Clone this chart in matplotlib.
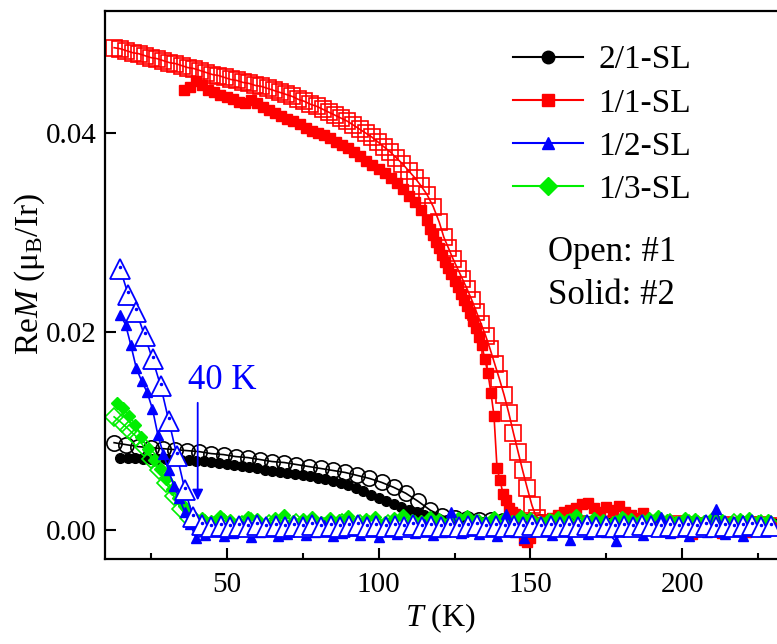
import numpy as np
import matplotlib
matplotlib.use('Agg')
import matplotlib.pyplot as plt
from matplotlib.ticker import MultipleLocator, FormatStrFormatter

plt.rcParams['font.family'] = 'Liberation Serif'
plt.rcParams['mathtext.fontset'] = 'custom'
plt.rcParams['mathtext.rm'] = 'Liberation Serif'
plt.rcParams['mathtext.it'] = 'Liberation Serif:italic'

# Dados: M (mu_B/Ir) por trecho de temperatura (K)

## 2/1-SL, amostra #1 (aberto) e #2 (cheio)
bk1_t = (13, 229)
bk1_m = [.0088, .0086, .0084, .0083, .0082, .0081, .0080, .0079, .0077, .0076,
         .0074, .0073, .0071, .0069, .0068, .0066, .0064, .0062, .0060, .0058,
         .0055, .0052, .0048, .0043, .0037, .0029, .0020, .0014, .0012, .0011,
         .0010, .0010, .0009, .0009, .0008, .0008, .0007, .0007, .0006, .0006,
         .0006, .0005, .0006, .0005, .0005, .0006, .0005, .0005, .0005, .0006,
         .0005, .0005, .0005, .0004, .0005]
bk2a_t = (15, 125)
bk2a_m = [.0073, .0073, .0073, .0072, .0072, .0072, .0072, .0071, .0071, .0071,
          .0070, .0070, .0069, .0068, .0067, .0066, .0065, .0064, .0062, .0060,
          .0059, .0058, .0057, .0056, .0055, .0054, .0052, .0051, .0049, .0047,
          .0045, .0042, .0039, .0035, .0032, .0029, .0026, .0023, .0020, .0018,
          .0015, .0013, .0011, .0010, .0009]
bk2b_t = (128, 230)
bk2b_m = [.0008, .0008, .0007, .0008, .0007, .0007, .0008, .0007, .0007, .0006,
          .0007, .0007, .0006, .0007, .0007, .0006, .0007, .0006]

## 1/1-SL
rd1a_t = (13, 120)
rd1a_m = [.0486, .0485, .0483, .0481, .0480, .0478, .0476, .0475, .0473, .0471,
          .0470, .0468, .0466, .0465, .0463, .0461, .0459, .0458, .0456, .0454,
          .0453, .0451, .0450, .0448, .0447, .0445, .0443, .0441, .0439, .0437,
          .0434, .0432, .0429, .0427, .0424, .0421, .0418, .0415, .0412, .0408,
          .0404, .0400, .0396, .0391, .0386, .0381, .0375, .0369, .0362, .0355,
          .0347, .0338, .0326, .0310]
rd1b_t = (121.5, 152)
rd1b_m = [.0295, .0284, .0273, .0263, .0253, .0243, .0232, .0220, .0208, .0196,
          .0182, .0167, .0152, .0136, .0118, .0098, .0079, .0060, .0042, .0025,
          .0012]
rd1c_t = (154, 230)
rd1c_m = [.0007, .0006, .0005, .0006, .0005, .0005, .0006, .0005, .0004, .0005,
          .0005, .0006, .0005, .0004, .0005, .0005, .0004, .0005, .0005, .0004]
rd2a_t = (36, 116)
rd2a_m = [.0443, .0446, .0452, .0448, .0443, .0441, .0438, .0436, .0434, .0431,
          .0430, .0433, .0430, .0426, .0423, .0420, .0417, .0414, .0412, .0409,
          .0405, .0402, .0400, .0398, .0395, .0391, .0388, .0385, .0381, .0377,
          .0372, .0368, .0364, .0360, .0355, .0350, .0344, .0337, .0331, .0322,
          .0312]
rd2b_t = (117, 138)
rd2b_m = [.0303, .0297, .0290, .0284, .0277, .0270, .0264, .0258, .0251, .0245,
          .0238, .0232, .0226, .0219, .0211, .0204, .0195, .0186, .0172, .0158,
          .0138, .0115]
rd2c_t = (139, 151)
rd2c_m = [.0062, .0050, .0036, .0030, .0022, .0018, .0016, .0012, .0002, -.0010,
          -.0012, -.0008, .0002]
rd2d_t = (153, 231)
rd2d_m = [.0008, .0010, .0012, .0015, .0018, .0020, .0022, .0026, .0027, .0022,
          .0018, .0023, .0020, .0024, .0018, .0015, .0012, .0017, .0010, .0007,
          .0005, .0003, -.0002, .0005, .0004, -.0004, .0006, .0003, .0001, .0006,
          -.0003, .0004, .0002, .0006, -.0002, .0004, .0003, .0005, .0002, .0004]

## 1/2-SL
bl1a_t = (15, 39)
bl1a_m = [.0263, .0237, .0220, .0196, .0172, .0145, .0110, .0075, .0040, .0013]
bl1b_t = (42, 229)
bl1b_m = [.0005, .0003, .0004, .0003, .0004, .0003, .0005, .0003, .0004, .0003,
          .0004, .0003, .0005, .0003, .0004, .0003, .0004, .0005, .0003, .0004,
          .0003, .0004, .0003, .0005, .0003, .0004, .0003, .0004, .0003, .0004,
          .0005, .0003, .0004, .0003, .0004, .0003, .0005, .0003, .0004, .0003,
          .0004, .0003, .0005, .0003, .0004, .0003, .0004, .0003, .0005, .0004,
          .0003, .0004, .0003, .0004, .0003, .0005, .0003, .0004, .0003, .0004,
          .0005, .0003, .0004]
bl2a_t = (15, 38)
bl2a_m = [.0217, .0207, .0186, .0163, .0150, .0139, .0122, .0096, .0077, .0060,
          .0044, .0032, .0018, .0006]
bl2b_t = (40, 229)
bl2b_m = [-.0008, -.0005, .0002, -.0006, -.0003, .0004, -.0007, -.0002, .0001, -.0006,
          -.0004, .0003, -.0005, -.0002, .0005, -.0006, -.0003, .0002, -.0005, -.0001,
          -.0007, .0004, -.0004, .0002, -.0003, .0006, -.0005, -.0002, .0018, -.0003,
          .0001, -.0004, .0003, -.0006, .0016, -.0002, -.0008, .0004, .0000, -.0005,
          .0003, -.0010, .0002, -.0004, .0005, -.0002, -.0011, .0003, .0001, -.0005,
          .0004, .0013, -.0003, .0002, -.0006, .0003, -.0002, .0021, -.0004, .0002,
          -.0006, .0003, -.0001, .0002]

## 1/3-SL
gr1a_t = (13, 40)
gr1a_m = [.0114, .0108, .0101, .0094, .0084, .0072, .0060, .0047, .0034, .0021,
          .0012, .0008]
gr1b_t = (43, 229)
gr1b_m = [.0006, .0004, .0007, .0003, .0005, .0008, .0004, .0006, .0003, .0005,
          .0007, .0004, .0006, .0003, .0005, .0007, .0004, .0006, .0005, .0003,
          .0006, .0004, .0007, .0005, .0003, .0006, .0004, .0005, .0007, .0004,
          .0006, .0003, .0005, .0007, .0004, .0006, .0005, .0003, .0006, .0004,
          .0007, .0005, .0003, .0006, .0004, .0005, .0007, .0004, .0006, .0003,
          .0005, .0007, .0004, .0006, .0005, .0003, .0006, .0004, .0007, .0005,
          .0004, .0006, .0005]
gr2a_t = (14, 40)
gr2a_m = [.0128, .0123, .0115, .0106, .0094, .0082, .0071, .0061, .0051, .0041,
          .0032, .0024, .0016, .0010]
gr2b_t = (42, 228)
gr2b_m = [.0012, .0009, .0014, .0010, .0008, .0013, .0011, .0007, .0012, .0015,
          .0009, .0011, .0013, .0008, .0012, .0010, .0014, .0009, .0011, .0013,
          .0008, .0012, .0015, .0010, .0009, .0013, .0011, .0007, .0012, .0014,
          .0010, .0008, .0013, .0011, .0009, .0014, .0012, .0008, .0011, .0013,
          .0010, .0015, .0009, .0012, .0010, .0008, .0013, .0011, .0009, .0012,
          .0014, .0010, .0008, .0012, .0011, .0009, .0013, .0010, .0008, .0011,
          .0012, .0009, .0010]

labels = ['2/1-SL', '1/1-SL', '1/2-SL', '1/3-SL']
cores = ['black', '#ff0000', '#0000ff', '#00ee00']


# Junta os trechos de cada serie
def junta(*trechos):
    t = np.concatenate([np.linspace(a[0], a[1], len(m)) for a, m in trechos])
    m = np.concatenate([m for a, m in trechos])
    return t, m


bk1 = junta((bk1_t, bk1_m))
bk2 = junta((bk2a_t, bk2a_m), (bk2b_t, bk2b_m))
rd1 = junta((rd1a_t, rd1a_m), (rd1b_t, rd1b_m), (rd1c_t, rd1c_m))
rd2 = junta((rd2a_t, rd2a_m), (rd2b_t, rd2b_m), (rd2c_t, rd2c_m), (rd2d_t, rd2d_m))
bl1 = junta((bl1a_t, bl1a_m), (bl1b_t, bl1b_m))
bl2 = junta((bl2a_t, bl2a_m), (bl2b_t, bl2b_m))
gr1 = junta((gr1a_t, gr1a_m), (gr1b_t, gr1b_m))
gr2 = junta((gr2a_t, gr2a_m), (gr2b_t, gr2b_m))

# Grafico
fig = plt.figure(figsize=(7.77, 6.44), dpi=100)
ax = fig.add_axes([105 / 777, 85 / 644, 699 / 777, 548 / 644])

lw = 1.2
ax.plot(*bk1, '-o', color=cores[0], ms=11, mfc='none', mew=1.2, lw=lw)
ax.plot(*bk2, '-o', color=cores[0], ms=7, lw=lw)
ax.plot(*rd1, '-s', color=cores[1], ms=12, mfc='none', mew=1.2, lw=lw)
ax.plot(*rd2, '-s', color=cores[1], ms=7, lw=lw)
ax.plot(*gr1, '-D', color=cores[3], ms=9, mfc='none', mew=1.2, lw=lw)
ax.plot(*gr2, '-D', color=cores[3], ms=6, lw=lw)
ax.plot(*bl2, '-^', color=cores[2], ms=7, lw=lw)
ax.plot(*bl1, '-^', color=cores[2], ms=15, mfc='white', mew=1.3, lw=lw)
ax.plot(bl1[0], bl1[1] + 0.00025, 'o', color=cores[2], ms=1.5)

# Legenda so com os simbolos cheios
marcas = ['o', 's', '^', 'D']
handles = [plt.Line2D([], [], color=c, marker=mk, ms=9, lw=1.5)
           for c, mk in zip(cores, marcas)]
ax.legend(handles, labels, loc='upper left', bbox_to_anchor=(513 / 777, 1 - 45 / 644),
          bbox_transform=fig.transFigure, frameon=False, fontsize=24,
          handlelength=2.1, handletextpad=0.45, labelspacing=0.38, borderpad=0,
          borderaxespad=0)

fig.text(548 / 777, 1 - 253 / 644, 'Open: #1', fontsize=25, va='center')
fig.text(548 / 777, 1 - 295 / 644, 'Solid: #2', fontsize=25, va='center')

ax.annotate('', xy=(40.5, 0.0027), xytext=(40.5, 0.0131),
            arrowprops=dict(arrowstyle='-|>', color='#0000ff', lw=1.3, mutation_scale=16))
ax.text(37.2, 0.0151, '40 K', color='#0000ff', fontsize=25, va='center')

ax.set_xlim(10, 240)
ax.set_ylim(-0.00292, 0.0523)
ax.xaxis.set_major_locator(MultipleLocator(50))
ax.xaxis.set_minor_locator(MultipleLocator(25))
ax.yaxis.set_major_locator(MultipleLocator(0.02))
ax.yaxis.set_major_formatter(FormatStrFormatter('%.2f'))
ax.tick_params(which='both', direction='in', top=False, right=False,
               labelsize=21, width=1.5)
ax.tick_params(axis='x', which='major', length=8, pad=9)
ax.tick_params(axis='x', which='minor', length=4)
ax.tick_params(axis='y', which='major', length=8, pad=6)
for lado in ax.spines.values():
    lado.set_linewidth(1.6)
ax.spines['right'].set_visible(False)

ax.set_xlabel('$T$ (K)', fontsize=23)
ax.set_ylabel('Re$M$ (μ$_\\mathrm{B}$/Ir)', fontsize=24)
ax.xaxis.set_label_coords(0.48, -0.078)
ax.yaxis.set_label_coords(-0.083, 0.52)

fig.savefig('out.png', dpi=100)
